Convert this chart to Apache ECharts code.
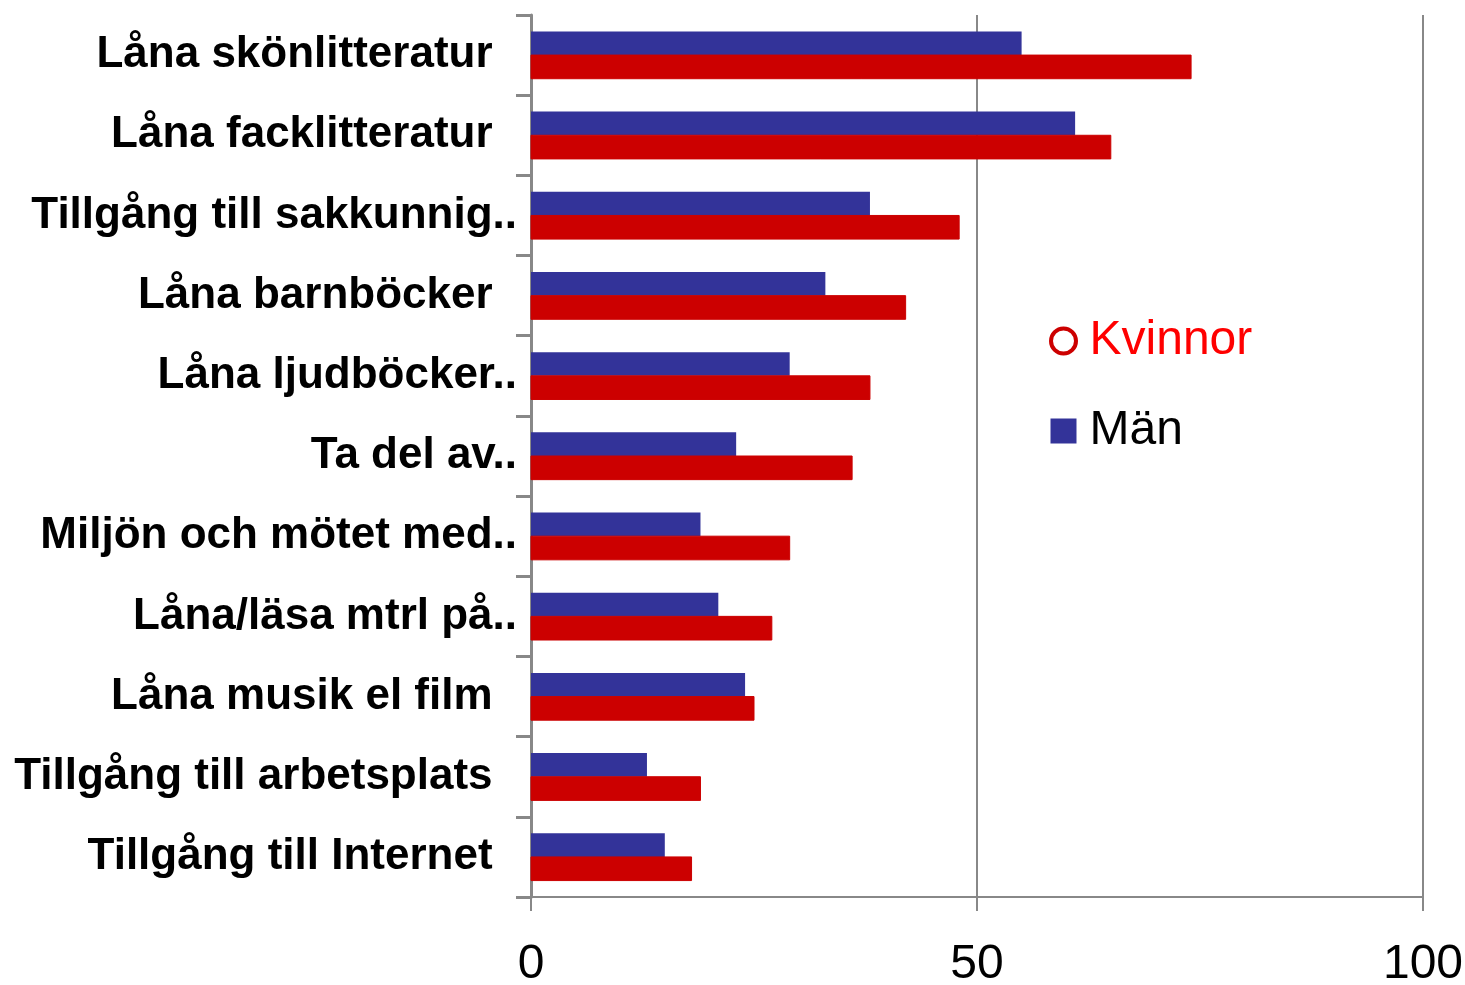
<!DOCTYPE html>
<html>
<head>
<meta charset="utf-8">
<script src="https://cdn.jsdelivr.net/npm/echarts@6/dist/echarts.min.js"></script>
<style>
  html, body { margin: 0; padding: 0; background: #fff; }
  #chart { width: 1465px; height: 985px; }
</style>
</head>
<body>
<div id="chart"></div>
<script>
var categories = [
  'Låna skönlitteratur',
  'Låna facklitteratur',
  'Tillgång till sakkunnig..',
  'Låna barnböcker',
  'Låna ljudböcker..',
  'Ta del av..',
  'Miljön och mötet med..',
  'Låna/läsa mtrl på..',
  'Låna musik el film',
  'Tillgång till arbetsplats',
  'Tillgång till Internet'
]
var man = [55, 61, 38, 33, 29, 23, 19, 21, 24, 13, 15]
var kvinnor = [74, 65, 48, 42, 38, 36, 29, 27, 25, 19, 18]
var xTicks = [0, 50, 100]

var chart = echarts.init(document.getElementById('chart'))
chart.setOption({
  animation: false,
  grid: {
    left: 531,
    right: 42,
    top: 15,
    bottom: 88,
    outerBoundsMode: 'none'
  },
  legend: {
    orient: 'vertical',
    left: 1044,
    top: 312,
    itemGap: 42,
    itemWidth: 26,
    itemHeight: 25,
    textStyle: {
      fontFamily: 'Liberation Sans',
      fontSize: 48,
      color: '#000',
      padding: [0, 0, 0, 8]
    },
    data: [
      {
        name: 'Kvinnor',
        icon: 'circle',
        itemStyle: { color: '#ffffff', borderColor: '#cc0000', borderWidth: 4 },
        textStyle: { color: '#ff0000' }
      },
      { name: 'Män', icon: 'rect', itemStyle: { color: '#333399' } }
    ]
  },
  xAxis: {
    type: 'value',
    min: 0,
    max: 100,
    interval: 50,
    axisLine: { show: true, lineStyle: { color: '#888', width: 2 } },
    axisTick: { show: true, length: 14, lineStyle: { color: '#888', width: 2 } },
    axisLabel: {
      margin: 44,
      fontFamily: 'Liberation Sans',
      fontSize: 48,
      color: '#000',
      formatter: function (v) { return xTicks.indexOf(v) >= 0 ? String(v) : '' }
    },
    splitLine: { show: true, lineStyle: { color: '#888', width: 2 } }
  },
  yAxis: {
    type: 'category',
    inverse: true,
    data: categories,
    axisLine: { show: true, lineStyle: { color: '#888', width: 3 } },
    axisTick: { show: true, length: 15, lineStyle: { color: '#888', width: 3 } },
    axisLabel: {
      margin: 14,
      fontFamily: 'Liberation Sans',
      fontSize: 44,
      fontWeight: 'bold',
      color: '#000',
      formatter: function (v) {
        return /\.\.$/.test(v) ? v : v + '  '
      }
    }
  },
  series: [
    {
      name: 'Män',
      type: 'bar',
      data: man,
      barGap: '0%',
      barCategoryGap: '41%',
      itemStyle: { color: '#333399' }
    },
    {
      name: 'Kvinnor',
      type: 'bar',
      data: kvinnor,
      itemStyle: { color: '#cc0000', borderColor: '#cc0000' }
    }
  ]
})
</script>
</body>
</html>
